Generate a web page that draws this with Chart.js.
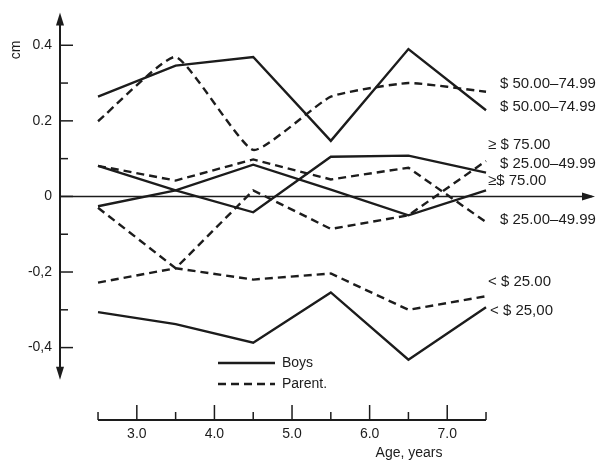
<!DOCTYPE html>
<html>
<head>
<meta charset="utf-8">
<script src="https://cdn.jsdelivr.net/npm/chart.js@4.4.0/dist/chart.umd.min.js"></script>
<style>
    html, body { margin: 0; padding: 0; background: #fff; }
</style>
</head>
<body>
<canvas id="growthChart" width="603" height="464"></canvas>
<script>
const ages = [2.5, 3.5, 4.5, 5.5, 6.5, 7.5];

// boys (solid) by family income
const boysUnder25 = [-0.306, -0.338, -0.387, -0.254, -0.432, -0.293];
const boys25to49 = [0.081, 0.016, -0.042, 0.105, 0.108, 0.063];
const boys50to74 = [0.264, 0.346, 0.369, 0.147, 0.390, 0.228];
const boysOver75 = [-0.026, 0.016, 0.084, 0.018, -0.05, 0.016];

// parents (dashed)
const parentUnder25 = [-0.228, -0.19, -0.22, -0.204, -0.30, -0.264];
const parent25to49 = [0.081, 0.042, 0.098, 0.045, 0.076, -0.068];
const parent50to74 = [0.199, 0.369, 0.123, 0.264, 0.300, 0.277];
const parentOver75 = [-0.03, -0.19, 0.016, -0.086, -0.05, 0.094];

const yTickValues = [0.4, 0.2, 0, -0.2, -0.4];
const yTickLabels = ['0.4', '0.2', '0', '-0,2', '-0,4'];
const yMinorTicks = [0.3, 0.1, -0.1, -0.3];
const xTickValues = [3, 4, 5, 6, 7];
const xTickLabels = ['3.0', '4.0', '5.0', '6.0', '7.0'];
const xMinorTicks = [2.5, 3.5, 4.5, 5.5, 6.5, 7.5];

const endLabels = ['$ 50.00–74.99', '$ 50.00–74.99', '≥ $ 75.00', '$ 25.00–49.99', '≥$ 75.00', '$ 25.00–49.99', '< $ 25.00', '< $ 25,00'];
const legendLabels = ['Boys', 'Parent.'];

const INK = '#1c1c1c';
const FONT = '"Liberation Sans", Arial, sans-serif';
const DASH = [8, 5];

function toPoints(values) {
    return values.map((v, i) => ({ x: ages[i], y: v }));
}

function line(values, dashed, tension) {
    return {
        data: toPoints(values),
        borderColor: INK,
        borderWidth: 2.4,
        borderDash: dashed ? DASH : [],
        pointRadius: 0,
        tension: tension || 0,
        fill: false
    };
}

function arrow(ctx, x, y, dir) {
    // dir: 'up' | 'down' | 'right'
    ctx.beginPath();
    if (dir === 'up') { ctx.moveTo(x, y); ctx.lineTo(x - 4, y + 13); ctx.lineTo(x + 4, y + 13); }
    if (dir === 'down') { ctx.moveTo(x, y); ctx.lineTo(x - 4, y - 13); ctx.lineTo(x + 4, y - 13); }
    if (dir === 'right') { ctx.moveTo(x, y); ctx.lineTo(x - 13, y - 4); ctx.lineTo(x - 13, y + 4); }
    ctx.closePath();
    ctx.fill();
}

const axesPlugin = {
    id: 'axesPlugin',
    afterDraw(chart) {
        const ctx = chart.ctx;
        const xs = chart.scales.x;
        const ys = chart.scales.y;
        const area = chart.chartArea;
        ctx.save();
        ctx.strokeStyle = INK;
        ctx.fillStyle = INK;

        // vertical axis with arrows both ends
        const ax = area.left;
        const yTop = area.top - 4;
        const yBot = ys.getPixelForValue(-0.485);
        ctx.lineWidth = 2;
        ctx.beginPath();
        ctx.moveTo(ax, yTop + 6);
        ctx.lineTo(ax, yBot - 6);
        ctx.stroke();
        arrow(ctx, ax, yTop, 'up');
        arrow(ctx, ax, yBot, 'down');

        ctx.lineWidth = 1.5;
        yTickValues.forEach(v => {
            const py = ys.getPixelForValue(v);
            ctx.beginPath(); ctx.moveTo(ax, py); ctx.lineTo(ax + 13, py); ctx.stroke();
        });
        yMinorTicks.forEach(v => {
            const py = ys.getPixelForValue(v);
            ctx.beginPath(); ctx.moveTo(ax, py); ctx.lineTo(ax + 8, py); ctx.stroke();
        });

        // zero line with arrow
        const zy = ys.getPixelForValue(0);
        ctx.lineWidth = 1.5;
        ctx.beginPath();
        ctx.moveTo(ax, zy);
        ctx.lineTo(area.right - 6, zy);
        ctx.stroke();
        arrow(ctx, area.right - 3, zy, 'right');

        // bottom age axis
        const by = area.bottom;
        const x0 = xs.getPixelForValue(2.5);
        const x1 = xs.getPixelForValue(7.5);
        ctx.lineWidth = 1.8;
        ctx.beginPath(); ctx.moveTo(x0, by); ctx.lineTo(x1, by); ctx.stroke();
        ctx.lineWidth = 1.5;
        xTickValues.forEach(v => {
            const px = xs.getPixelForValue(v);
            ctx.beginPath(); ctx.moveTo(px, by); ctx.lineTo(px, by - 15); ctx.stroke();
        });
        xMinorTicks.forEach(v => {
            const px = xs.getPixelForValue(v);
            ctx.beginPath(); ctx.moveTo(px, by); ctx.lineTo(px, by - 8); ctx.stroke();
        });

        // axis titles
        ctx.font = '14px ' + FONT;
        ctx.textAlign = 'center';
        ctx.textBaseline = 'middle';
        ctx.fillText('Age, years', 409, 453);
        ctx.save();
        ctx.translate(16, 50);
        ctx.rotate(-Math.PI / 2);
        ctx.fillText('cm', 0, 0);
        ctx.restore();

        // income labels at right
        const labelPos = [[500, 84], [500, 107], [488, 145], [500, 164], [488, 181], [500, 220], [488, 282], [490, 311]];
        ctx.font = '15px ' + FONT;
        ctx.textAlign = 'left';
        endLabels.forEach((t, i) => ctx.fillText(t, labelPos[i][0], labelPos[i][1]));

        // legend
        ctx.lineWidth = 2.4;
        ctx.beginPath(); ctx.moveTo(218, 363); ctx.lineTo(275, 363); ctx.stroke();
        ctx.setLineDash(DASH);
        ctx.beginPath(); ctx.moveTo(218, 384); ctx.lineTo(275, 384); ctx.stroke();
        ctx.setLineDash([]);
        ctx.font = '14px ' + FONT;
        ctx.fillText(legendLabels[0], 282, 363);
        ctx.fillText(legendLabels[1], 282, 384);
        ctx.restore();
    }
};

new Chart(document.getElementById('growthChart'), {
    type: 'line',
    data: {
        datasets: [
            line(boysUnder25, false),
            line(boys25to49, false),
            line(boys50to74, false),
            line(boysOver75, false),
            line(parentUnder25, true),
            line(parent25to49, true),
            line(parent50to74, true, 0.15),
            line(parentOver75, true)
        ]
    },
    options: {
        responsive: false,
        animation: false,
        devicePixelRatio: 1,
        layout: { padding: { left: 0, right: 5, top: 12, bottom: 0 } },
        plugins: { legend: { display: false }, tooltip: { enabled: false } },
        scales: {
            x: {
                type: 'linear',
                min: 2.01,
                max: 8.943,
                afterFit: s => { s.height = 44; },
                afterBuildTicks: s => { s.ticks = xTickValues.map(v => ({ value: v })); },
                grid: { display: false, drawTicks: false },
                border: { display: false },
                ticks: {
                    padding: 6,
                    color: INK,
                    font: { family: FONT, size: 14 },
                    maxRotation: 0,
                    callback: v => xTickLabels[xTickValues.indexOf(v)]
                }
            },
            y: {
                min: -0.5916,
                max: 0.4764,
                afterFit: s => { s.width = 60; },
                afterBuildTicks: s => { s.ticks = yTickValues.map(v => ({ value: v })); },
                grid: { display: false, drawTicks: false },
                border: { display: false },
                ticks: {
                    padding: 8,
                    color: INK,
                    font: { family: FONT, size: 14 },
                    callback: v => yTickLabels[yTickValues.indexOf(v)]
                }
            }
        }
    },
    plugins: [axesPlugin]
});
</script>
</body>
</html>
